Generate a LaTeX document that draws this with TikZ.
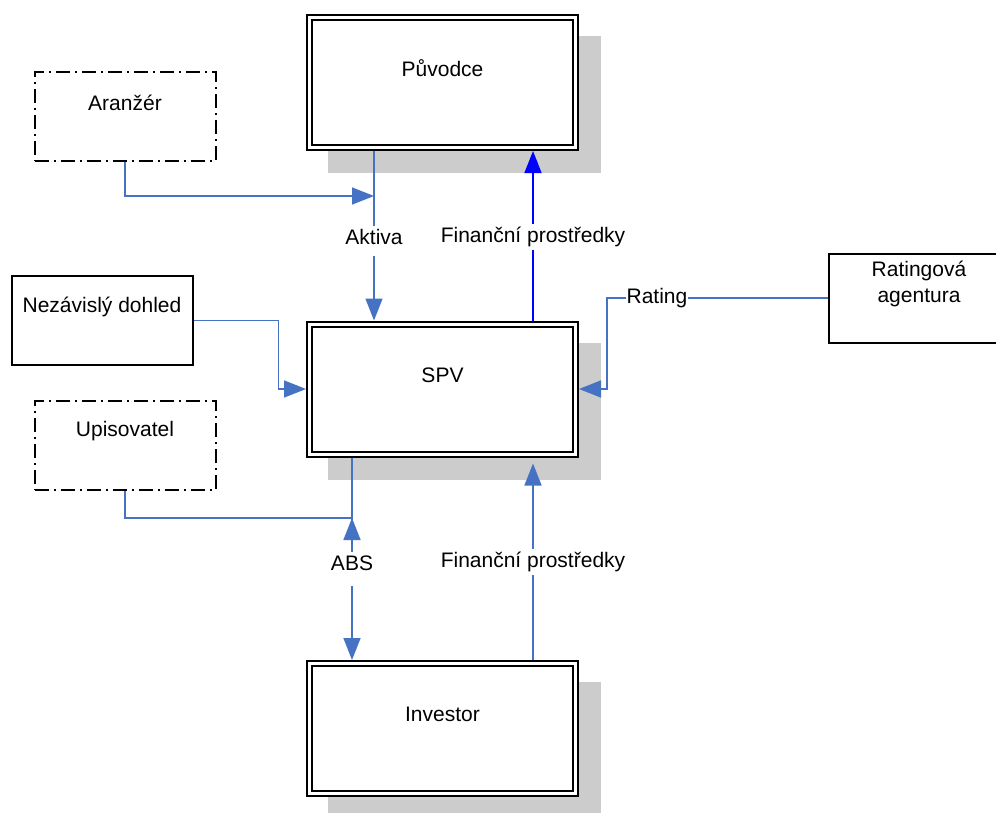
\documentclass[tikz,border=0pt]{standalone}
\usepackage{fontspec}
\setmainfont{Liberation Sans}
\usepackage{tikz}
\usetikzlibrary{
  arrows.meta,
  shadows
}
\definecolor{linkblue}{RGB}{70,114,196}
\colorlet{shade}{black!20}
\tikzset{
  dblbox/.style={draw,fill=white,double,line width=1pt,double distance=1.5pt,outer sep=1.75pt,
    minimum width=133pt,minimum height=65pt,
    drop shadow={shadow xshift=11pt,shadow yshift=-11pt,fill=shade,draw=shade,line width=3.5pt,opacity=1}},
  solidbox/.style={draw,line width=1pt,minimum width=90.5pt,minimum height=44.5pt},
  dashbox/.style={solidbox,dash pattern=on 7pt off 2.5pt on 1pt off 2.5pt},
  boxtext/.style={label={[yshift=7pt,align=center]center:#1}},
  link/.style={draw=linkblue,line width=0.8pt,-{Triangle[length=11pt,width=8.5pt]}},
  lbl/.style={fill=white,inner xsep=1pt,inner ysep=1.6pt,text height=7.6pt,text depth=2.2pt},
}

\begin{document}
\begin{tikzpicture}[
  x=0.5pt,y=-0.5pt,
  font=\fontsize{10.5}{12.6}\selectfont,
]
\useasboundingbox (0,0) rectangle (996,813);

\node[dblbox,boxtext=Původce] (puvodce) at (442.5,82.5) {};
\node[dblbox,boxtext=SPV] (spv) at (442.5,389) {};
\node[dblbox,boxtext=Investor] (investor) at (442.5,728.5) {};
\node[dashbox,boxtext=Aranžér] (aranzer) at (125,116.5) {};
\node[dashbox,boxtext=Upisovatel] (upisovatel) at (125,445.5) {};
\node[solidbox,boxtext=Nezávislý dohled] (dohled) at (102,320.5) {};
\node[solidbox,boxtext={Ratingová\\agentura}] (agentura) at (919,298) {};

\node[lbl] (aktiva) at (374,239) {Aktiva};
\node[lbl] (prostredky-a) at (533,237) {Finanční prostředky};
\node[lbl] (abs) at (352,565) {ABS};
\node[lbl] (prostredky-b) at (533,562) {Finanční prostředky};
\node[lbl,inner xsep=0pt] (rating) at (657,298) {Rating};

\coordinate (aktiva-in) at (374,196);
\coordinate (abs-in) at (352,518);
\coordinate (rating-bend) at (607,298);

\draw[link,shorten <=2pt] (puvodce.south -| aktiva) -- (aktiva) -- (spv.north -| aktiva);
\draw[link] (aranzer.south) |- (aktiva-in);
\draw[link,draw=blue] (spv.north -| prostredky-a) -- (prostredky-a) -- (puvodce.south -| prostredky-a);
\draw[link] (dohled.east) -- ++(85,0) |- (spv.west);
\draw[link] (agentura.west) -- (rating) -- (rating-bend) |- (spv.east);
\draw[link,-] (upisovatel.south) |- (abs-in);
\draw[link,shorten <=4pt] (spv.south -| abs) -- (abs) -- (investor.north -| abs);
\draw[link] (abs) -- (abs-in);
\draw[link,shorten >=3pt] (investor.north -| prostredky-b) -- (prostredky-b) -- (spv.south -| prostredky-b);
\end{tikzpicture}
\end{document}
